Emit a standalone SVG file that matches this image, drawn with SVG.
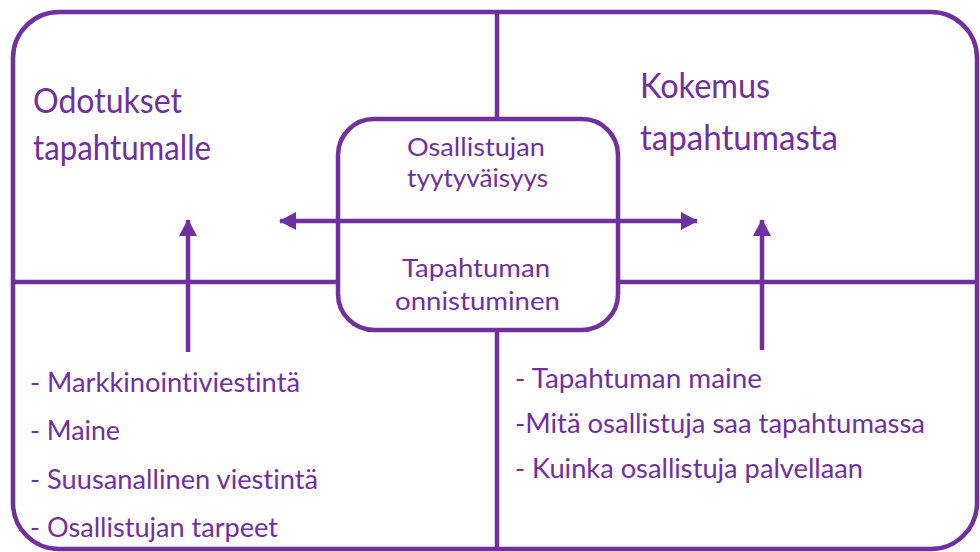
<svg xmlns="http://www.w3.org/2000/svg" width="980" height="552" viewBox="0 0 980 552">
<style>
.ln{stroke:#7030A0;stroke-width:4.5;fill:none}
.t{font-family:Lato,"Open Sans",sans-serif;fill:#7030A0;font-variant-ligatures:none;font-feature-settings:"liga" 0,"clig" 0}
.h{font-size:34px}
.c{font-size:25px}
.l{font-size:27px}
</style>
<defs>
<marker id="ah" markerUnits="userSpaceOnUse" markerWidth="20" markerHeight="20" refX="16" refY="9" orient="auto-start-reverse">
<path d="M0,0 L17,9 L0,18 Z" fill="#7030A0"/>
</marker>
</defs>
<rect width="980" height="552" fill="#ffffff"/>
<g id="frame">
<rect class="ln" x="13" y="12" width="964" height="537" rx="46" ry="46"/>
</g>
<g id="connectors">
<line class="ln" x1="497" y1="12" x2="497" y2="119"/>
<line class="ln" x1="497" y1="330" x2="497" y2="549"/>
<line class="ln" x1="13" y1="282" x2="338" y2="282"/>
<line class="ln" x1="618" y1="282" x2="977" y2="282"/>
<line class="ln" x1="280" y1="221" x2="697" y2="221" marker-start="url(#ah)" marker-end="url(#ah)"/>
<line class="ln" x1="188" y1="352" x2="188" y2="220" stroke-width="5" marker-end="url(#ah)"/>
<line class="ln" x1="762" y1="350" x2="762" y2="220" stroke-width="5" marker-end="url(#ah)"/>
</g>
<g id="center">
<rect class="ln" x="338" y="119" width="280" height="211" rx="36" ry="36"/>
<text class="t c" x="407" y="156" textLength="138" lengthAdjust="spacingAndGlyphs">Osallistujan</text>
<text class="t c" x="407" y="187" textLength="141" lengthAdjust="spacingAndGlyphs">tyytyväisyys</text>
<text class="t c" x="402" y="277" textLength="148" lengthAdjust="spacingAndGlyphs">Tapahtuman</text>
<text class="t c" x="395" y="310" textLength="165" lengthAdjust="spacingAndGlyphs">onnistuminen</text>
</g>
<g id="odotukset">
<text class="t h" x="33" y="113" textLength="149" lengthAdjust="spacingAndGlyphs">Odotukset</text>
<text class="t h" x="33" y="160" textLength="178" lengthAdjust="spacingAndGlyphs">tapahtumalle</text>
</g>
<g id="kokemus">
<text class="t h" x="640" y="98" textLength="130" lengthAdjust="spacingAndGlyphs">Kokemus</text>
<text class="t h" x="640" y="150" textLength="198" lengthAdjust="spacingAndGlyphs">tapahtumasta</text>
</g>
<g id="list-left">
<text class="t l" x="30" y="392" textLength="270" lengthAdjust="spacingAndGlyphs">- Markkinointiviestintä</text>
<text class="t l" x="30" y="440" textLength="90" lengthAdjust="spacingAndGlyphs">- Maine</text>
<text class="t l" x="30" y="489" textLength="288" lengthAdjust="spacingAndGlyphs">- Suusanallinen viestintä</text>
<text class="t l" x="30" y="537" textLength="248" lengthAdjust="spacingAndGlyphs">- Osallistujan tarpeet</text>
</g>
<g id="list-right">
<text class="t l" x="515" y="388" textLength="247" lengthAdjust="spacingAndGlyphs">- Tapahtuman maine</text>
<text class="t l" x="515" y="433" textLength="410" lengthAdjust="spacingAndGlyphs">-Mitä osallistuja saa tapahtumassa</text>
<text class="t l" x="515" y="478" textLength="348" lengthAdjust="spacingAndGlyphs">- Kuinka osallistuja palvellaan</text>
</g>
</svg>
